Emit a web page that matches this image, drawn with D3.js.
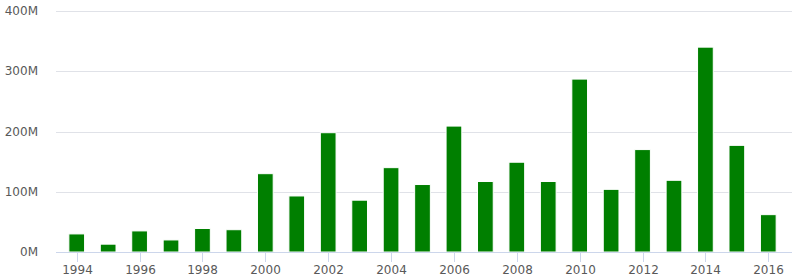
<!DOCTYPE html>
<html>
<head>
<meta charset="utf-8">
<script src="https://cdn.jsdelivr.net/npm/d3@7"></script>
<style>
  body { margin: 0; background: #fff; }
  text { font-family: "DejaVu Sans", sans-serif; font-size: 12px; fill: #595959; }
</style>
</head>
<body>
<div id="chart"></div>
<script>
const years = [1994, 1995, 1996, 1997, 1998, 1999, 2000, 2001, 2002, 2003, 2004, 2005,
               2006, 2007, 2008, 2009, 2010, 2011, 2012, 2013, 2014, 2015, 2016];
const values = [30, 13, 35, 20, 39, 37, 130, 93, 198, 86, 140, 112,
                209, 117, 149, 117, 287, 104, 170, 119, 340, 177, 62]; // millions
const yTicks = [0, 100, 200, 300, 400];
const xTickYears = years.filter(y => y % 2 === 0);

const w = 800;
const h = 279;

const svg = d3.select('#chart').append('svg').attr('width', w).attr('height', h);

const x = d3.scaleBand().domain(years).range([61, 784]).paddingInner(0.5).paddingOuter(0.25);
const y = d3.scaleLinear().domain([0, 400]).range([252, 11]);

// grid
svg.append('g')
    .selectAll('line')
    .data(yTicks.filter(d => d > 0))
    .enter()
    .append('line')
    .attr('x1', 56).attr('x2', 792)
    .attr('y1', d => Math.round(y(d)) + 0.5)
    .attr('y2', d => Math.round(y(d)) + 0.5)
    .attr('stroke', '#e0e2e8');

// y labels
svg.append('g')
    .selectAll('text')
    .data(yTicks)
    .enter()
    .append('text')
    .attr('x', 38)
    .attr('y', d => y(d) + 4)
    .attr('text-anchor', 'end')
    .text(d => d + 'M');

// bars
svg.append('g')
    .selectAll('rect')
    .data(years)
    .enter()
    .append('rect')
    .attr('x', d => x(d))
    .attr('y', (d, i) => y(values[i]))
    .attr('width', x.bandwidth())
    .attr('height', (d, i) => y(0) - y(values[i]))
    .attr('fill', '#007f00')
    .attr('stroke', '#fff')
    .attr('stroke-width', 1);

// x axis line and ticks
svg.append('line')
    .attr('x1', 56).attr('x2', 792)
    .attr('y1', 252.5).attr('y2', 252.5)
    .attr('stroke', '#ccd6eb');

const xt = svg.append('g')
    .selectAll('g')
    .data(xTickYears)
    .enter()
    .append('g')
    .attr('transform', d => `translate(${Math.round(x(d) + x.bandwidth() / 2) + 0.5},0)`);

xt.append('line')
    .attr('y1', 253).attr('y2', 262)
    .attr('stroke', '#ccd6eb');

xt.append('text')
    .attr('y', 274)
    .attr('text-anchor', 'middle')
    .text(d => d);
</script>
</body>
</html>
